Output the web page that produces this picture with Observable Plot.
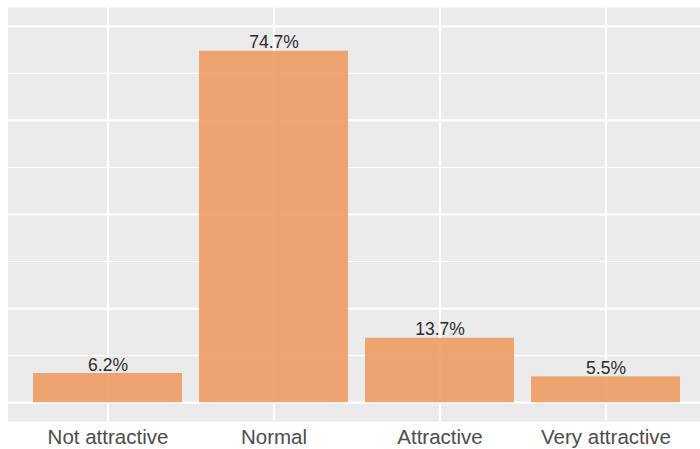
<!DOCTYPE html>
<html>
<head>
<meta charset="utf-8">
<script src="https://cdn.jsdelivr.net/npm/d3@7"></script>
<script src="https://cdn.jsdelivr.net/npm/@observablehq/plot@0.6"></script>
<style>
  html, body { margin: 0; padding: 0; background: #fff; }
  #chart svg { display: block; font-family: "Liberation Sans", Arial, sans-serif; }
</style>
</head>
<body>
<div id="chart"></div>
<script>
const categories = ["Not attractive", "Normal", "Attractive", "Very attractive"];
const values = [6.2, 74.7, 13.7, 5.5];
const labels = ["6.2%", "74.7%", "13.7%", "5.5%"];
const majorTicks = [0, 20, 40, 60, 80];
const minorTicks = [10, 30, 50, 70];

const data = categories.map((c, i) => ({category: c, value: values[i], label: labels[i]}));

const chart = Plot.plot({
  width: 700,
  height: 449,
  marginLeft: 7.5,
  marginRight: -6,
  marginTop: 7,
  marginBottom: 28,
  style: {fontFamily: '"Liberation Sans", Arial, sans-serif', background: "#fff"},
  x: {domain: categories, paddingInner: 0.1, paddingOuter: 0.15, label: null},
  y: {domain: [-4, 84], axis: null},
  marks: [
    Plot.frame({fill: "#EBEBEB", stroke: null}),
    Plot.ruleY(minorTicks, {stroke: "#fff", strokeWidth: 1.1}),
    Plot.ruleY(majorTicks, {stroke: "#fff", strokeWidth: 2.2}),
    Plot.ruleX(categories, {x: d => d, stroke: "#fff", strokeWidth: 2.2}),
    Plot.barY(data, {x: "category", y: "value", fill: "#ED9C63", fillOpacity: 0.9}),
    Plot.text(data, {x: "category", y: "value", text: "label", lineAnchor: "bottom", dy: -3, fontSize: 17.5, fill: "#2b2b2b"}),
    Plot.axisX({tickSize: 0, tickPadding: 8, fontSize: 20.5, color: "#4D4D4D", label: null})
  ]
});
document.getElementById("chart").appendChild(chart);
</script>
</body>
</html>
